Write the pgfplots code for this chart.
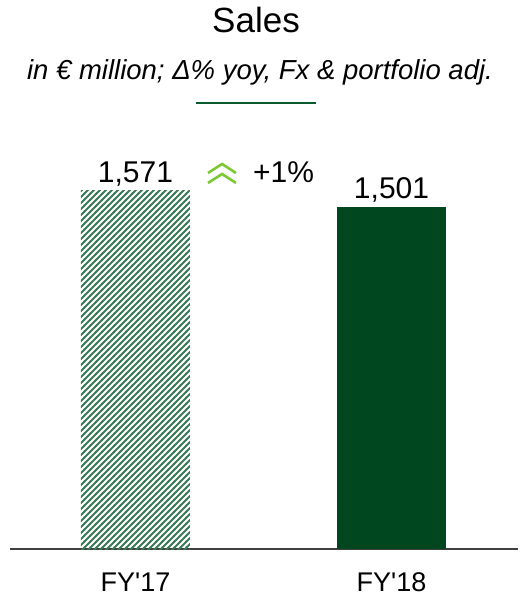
\documentclass[border=0pt]{standalone}
\usepackage{fontspec}
\setmainfont{Liberation Sans}
\usepackage{pgfplots}
\pgfplotsset{compat=1.18}
\usetikzlibrary{patterns}

\definecolor{darkgreen}{HTML}{00471F}
\definecolor{hatchgreen}{HTML}{3A7A58}
\definecolor{rulegreen}{HTML}{0B5A2E}
\definecolor{chevron}{HTML}{7CC934}
\definecolor{axisgray}{HTML}{404040}

% diagonal stripes, 6pt horizontal period
\pgfdeclarepatternformonly{stripes}{\pgfpoint{-1pt}{-1pt}}{\pgfpoint{7pt}{7pt}}{\pgfpoint{6pt}{6pt}}{%
  \pgfsetlinewidth{2.1pt}
  \pgfpathmoveto{\pgfpoint{-1pt}{-1pt}}
  \pgfpathlineto{\pgfpoint{7pt}{7pt}}
  \pgfusepath{stroke}
}

\begin{document}
\begin{tikzpicture}
\useasboundingbox (0pt,-47pt) rectangle (528pt,549pt);
\begin{axis}[
    at={(10pt,0pt)}, anchor=south west,
    scale only axis,
    width=508pt, height=358pt,
    ybar, bar width=109pt,
    xmin=-0.49, xmax=1.494,
    ymin=0, ymax=1571,
    axis x line=bottom,
    x axis line style={-, draw=axisgray, line width=1.2pt},
    hide y axis,
    xtick={0,1},
    xticklabels={FY\textquotesingle17,FY\textquotesingle18},
    major tick length=0pt,
    xticklabel style={anchor=base, yshift=-42.5pt, font=\fontsize{27}{30}\selectfont},
    point meta=explicit symbolic,
    nodes near coords,
    nodes near coords style={anchor=base, yshift=8pt, font=\fontsize{30}{34}\selectfont, text=black},
    clip=false,
]
\addplot[bar shift=0pt, draw=none, fill=white,
    pattern=stripes, pattern color=hatchgreen]
    coordinates {(0,1571) [1,571]};
\addplot[bar shift=0pt, draw=none, fill=darkgreen]
    coordinates {(1,1501) [1,501]};
\end{axis}

% titles
\node[anchor=base, inner sep=0pt, font=\fontsize{35}{40}\selectfont] at (256pt,516pt) {Sales};
\node[anchor=base, inner sep=0pt, font=\fontsize{27.5}{32}\selectfont\itshape] at (260pt,469.7pt)
    {in € million; Δ\% yoy, Fx \& portfolio adj.};
\draw[rulegreen, line width=1.5pt] (196pt,446pt) -- (316pt,446pt);

% growth marker
\draw[chevron, line width=2.6pt] (208pt,376pt) -- (222pt,385pt) -- (236pt,376pt);
\draw[chevron, line width=2.6pt] (208pt,366pt) -- (222pt,375pt) -- (236pt,366pt);
\node[anchor=base west, inner sep=0pt, font=\fontsize{30}{34}\selectfont] at (253pt,366pt) {+1\%};
\end{tikzpicture}
\end{document}
